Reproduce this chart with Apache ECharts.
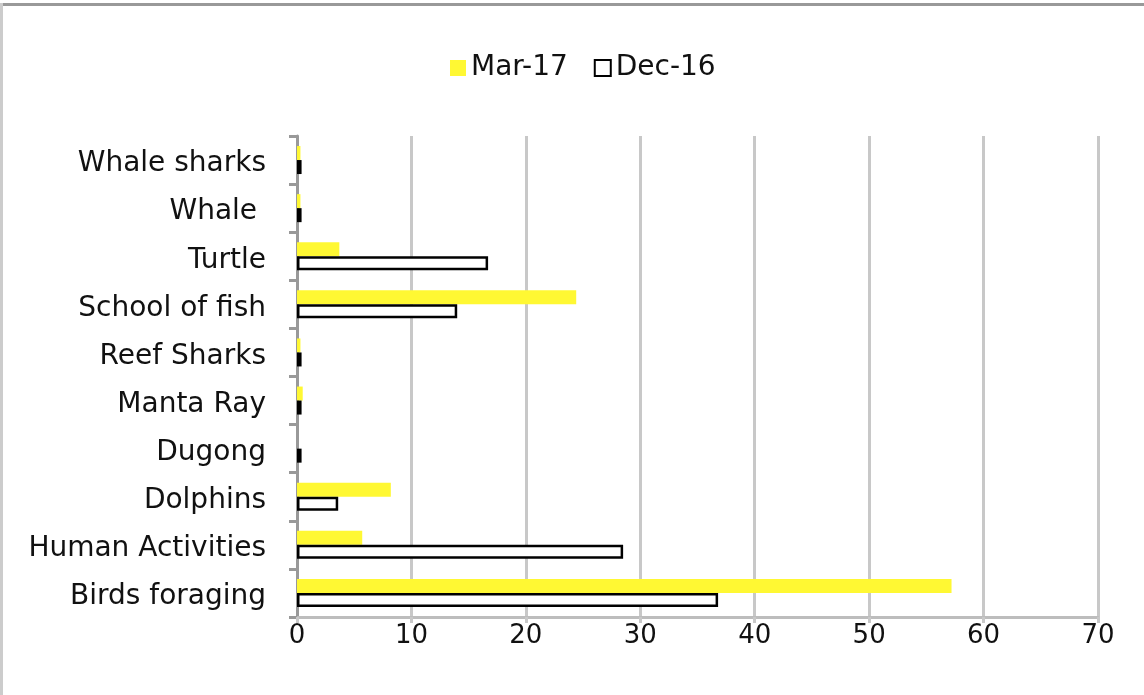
<!DOCTYPE html>
<html>
<head>
<meta charset="utf-8">
<script src="https://cdn.jsdelivr.net/npm/echarts@6/dist/echarts.min.js"></script>
<style>
  html, body { margin: 0; padding: 0; background: #ffffff; }
  #chart { width: 1144px; height: 695px; }
</style>
</head>
<body>
<div id="chart"></div>
<script>
// Sightings by category, listed bottom to top
const categories = ['Birds foraging', 'Human Activities', 'Dolphins', 'Dugong', 'Manta Ray',
  'Reef Sharks', 'School of fish', 'Turtle', 'Whale ', 'Whale sharks'];
const mar17 = [57.2, 5.7, 8.2, 0, 0.5, 0.3, 24.4, 3.7, 0.3, 0.3];
const dec16 = [36.8, 28.5, 3.6, 0.4, 0.4, 0.4, 14.0, 16.7, 0.4, 0.4];
const xTicks = [0, 10, 20, 30, 40, 50, 60, 70];

const font = 'DejaVu Sans';
const chart = echarts.init(document.getElementById('chart'), null, { renderer: 'canvas' });

chart.setOption({
  backgroundColor: '#ffffff',
  animation: false,
  textStyle: { fontFamily: font },
  legend: {
    data: ['Mar-17', 'Dec-16'],
    icon: 'rect',
    left: 445,
    top: 49,
    itemWidth: 16,
    itemHeight: 16,
    itemGap: 26,
    textStyle: { fontFamily: font, fontSize: 28, color: '#111' }
  },
  grid: { left: 297, right: 46, top: 136, bottom: 78, containLabel: false },
  xAxis: {
    type: 'value',
    min: xTicks[0],
    max: xTicks[xTicks.length - 1],
    interval: 10,
    axisLine: { show: true, lineStyle: { color: '#bdbdbd', width: 3 } },
    axisTick: { show: true, length: 6, lineStyle: { color: '#c8c8c8', width: 3 } },
    splitLine: { show: true, lineStyle: { color: '#c8c8c8', width: 3 } },
    axisLabel: { margin: 6, fontFamily: font, fontSize: 26, color: '#111' }
  },
  yAxis: {
    type: 'category',
    data: categories,
    axisLine: { show: true, lineStyle: { color: '#999999', width: 3 } },
    axisTick: { show: true, length: 8, lineStyle: { color: '#999999', width: 3 } },
    axisLabel: {
      margin: 31,
      formatter: (v) => '{c|' + v + '}',
      rich: { c: { fontFamily: font, fontSize: 28, color: '#111', padding: [8, 0, 0, 0] } }
    },
    splitLine: { show: false }
  },
  series: [
    {
      name: 'Mar-17',
      type: 'bar',
      data: mar17,
      barWidth: 14,
      barGap: '0%',
      itemStyle: { color: '#fff833' }
    },
    {
      name: 'Dec-16',
      type: 'bar',
      data: dec16,
      barWidth: 14,
      barGap: '0%',
      itemStyle: { color: '#ffffff', borderColor: '#000000', borderWidth: 2.5 }
    }
  ],
  graphic: [
    { type: 'rect', shape: { x: 0, y: 3, width: 1144, height: 3 }, style: { fill: '#999999' }, silent: true },
    { type: 'rect', shape: { x: 0, y: 3, width: 3, height: 692 }, style: { fill: '#cccccc' }, silent: true }
  ]
});
</script>
</body>
</html>
